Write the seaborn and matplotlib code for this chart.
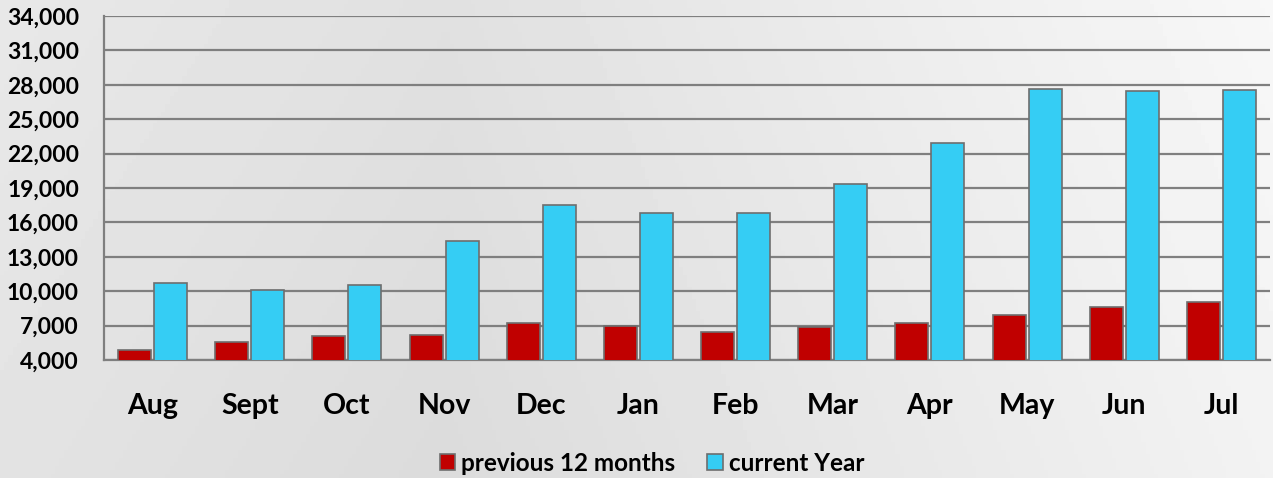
import numpy as np
import pandas as pd
import matplotlib
matplotlib.use("Agg")
import matplotlib.pyplot as plt
import seaborn as sns

# values
months = ["Aug", "Sept", "Oct", "Nov", "Dec", "Jan", "Feb", "Mar", "Apr", "May", "Jun", "Jul"]
previous_12 = [4900, 5600, 6100, 6200, 7200, 6950, 6450, 6850, 7250, 7950, 8650, 9100]
current_year = [10700, 10100, 10550, 14400, 17550, 16850, 16800, 19350, 22950, 27600, 27450, 27550]
series_names = ["previous 12 months", "current Year"]
y_ticks = list(range(4000, 34001, 3000))

df = pd.DataFrame({
    "month": months * 2,
    "value": previous_12 + current_year,
    "series": [series_names[0]] * len(months) + [series_names[1]] * len(months),
})

sns.set_style("white")
plt.rcParams["font.family"] = ["Lato", "DejaVu Sans"]
plt.rcParams["font.weight"] = "bold"
plt.rcParams["text.color"] = "black"

fig = plt.figure(figsize=(12.73, 4.78), dpi=100)

# gradient background
bg = fig.add_axes([0, 0, 1, 1], zorder=-10)
gx = np.linspace(0, 1, 300)
gy = np.linspace(0, 1, 120)
X, Y = np.meshgrid(gx, gy)
grad = 0.86 + 0.09 * np.clip((X - 0.35) / 0.65, 0, 1) + 0.03 * np.clip((0.35 - X) / 0.35, 0, 1) + 0.02 * Y
bg.imshow(grad, cmap="gray", vmin=0, vmax=1, aspect="auto", extent=[0, 1, 0, 1], origin="lower")
bg.axis("off")

ax = fig.add_axes([104 / 1273, 1 - 360 / 478, (1270 - 104) / 1273, (360 - 16) / 478])
ax.patch.set_alpha(0)

palette = {series_names[0]: "#c00000", series_names[1]: "#35cdf4"}
sns.barplot(data=df, x="month", y="value", hue="series", palette=palette,
            width=0.74, gap=0.08, edgecolor="#6e6e6e", linewidth=1.2,
            saturation=1, ax=ax, zorder=3)

ax.set_ylim(4000, 34000)
ax.set_xlim(-0.5, 11.5)
ax.set_yticks(y_ticks)
ax.set_yticklabels([f"{v:,}" for v in y_ticks], fontsize=16.5, fontweight="bold", color="black")
ax.set_xticks(range(len(months)))
ax.set_xticklabels(months, fontsize=20.5, fontweight="bold", color="black")
ax.tick_params(axis="x", length=0, pad=24)
ax.tick_params(axis="y", length=0, pad=18)
ax.set_xlabel("")
ax.set_ylabel("")
ax.yaxis.grid(True, color="#7f7f7f", linewidth=1.6, zorder=0)
ax.set_axisbelow(True)
for side in ["top", "right"]:
    ax.spines[side].set_visible(False)
for side in ["left", "bottom"]:
    ax.spines[side].set_color("#7f7f7f")
    ax.spines[side].set_linewidth(1.6)

handles, labels = ax.get_legend_handles_labels()
ax.legend(handles, labels, loc="center", bbox_to_anchor=(0.47, -0.3), ncol=2,
          frameon=False, prop={"size": 17.5, "weight": "bold"},
          handlelength=0.65, handleheight=0.65, handletextpad=0.25, columnspacing=1.3)

fig.savefig("out.png", dpi=100)
